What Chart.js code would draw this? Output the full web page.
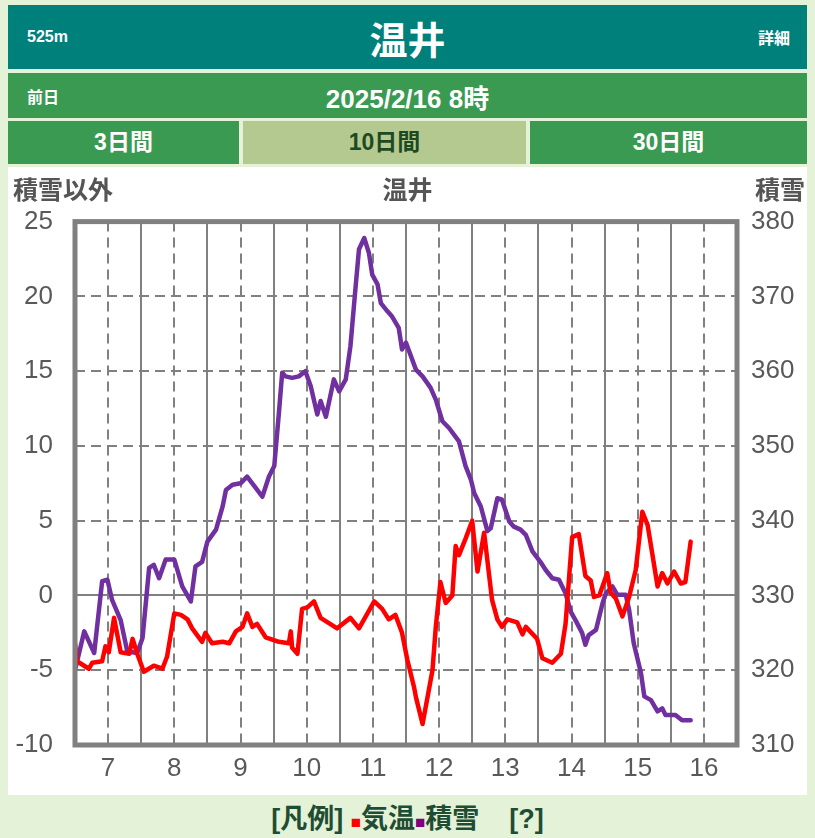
<!DOCTYPE html>
<html lang="ja">
<head>
<meta charset="UTF-8">
<title>温井 10日間</title>
<script src="https://cdn.jsdelivr.net/npm/chart.js"></script>
<style>
  body {
    margin: 0;
    width: 815px;
    height: 838px;
    background: #e4f2d8;
    font-family: "Liberation Sans", Arial, "Noto Sans CJK JP", sans-serif;
    position: relative;
    overflow: hidden;
  }
  .bar {
    position: absolute;
    left: 8px;
    width: 799px;
    color: #fff;
    font-weight: bold;
  }
  .head { top: 5px; height: 64px; background: #00807b; }
  .date { top: 73px; height: 45px; background: #3a9a52; }
  .bar span { position: absolute; top: 50%; transform: translateY(-50%); }
  .tab {
    position: absolute;
    top: 121px;
    height: 43px;
    line-height: 43px;
    background: #3a9a52;
    color: #fff;
    font-weight: bold;
    font-size: 23px;
    text-align: center;
  }
  .tab.on { background: #b4c98f; color: #1d4a22; }
  .panel {
    position: absolute;
    left: 8px;
    top: 167px;
    width: 799px;
    height: 628px;
    background: #fff;
  }
  .lab {
    position: absolute;
    top: 170px;
    font-size: 25px;
    font-weight: bold;
    color: #555;
  }
  #box {
    position: absolute;
    left: 8px;
    top: 184px;
    width: 799px;
    height: 611px;
  }
  .legend {
    position: absolute;
    left: 0;
    width: 815px;
    top: 797px;
    text-align: center;
    font-size: 27px;
    font-weight: bold;
    color: #1e4d33;
  }
</style>
</head>
<body>

<div class="bar head">
  <span style="left:19px;font-size:16px;">525m</span>
  <span style="left:0;width:799px;text-align:center;font-size:38px;">温井</span>
  <span style="right:17px;font-size:16px;">詳細</span>
</div>
<div class="bar date">
  <span style="left:19px;font-size:16px;">前日</span>
  <span style="left:0;width:799px;text-align:center;font-size:26px;">2025/2/16 8時</span>
</div>
<div class="tab" style="left:8px;width:231px;">3日間</div>
<div class="tab on" style="left:243px;width:283px;">10日間</div>
<div class="tab" style="left:530px;width:277px;">30日間</div>

<div class="panel"></div>

<div id="box"><canvas id="chart"></canvas></div>

<div class="lab" style="left:13px;">積雪以外</div>
<div class="lab" style="left:0;width:815px;text-align:center;">温井</div>
<div class="lab" style="right:10px;">積雪</div>

<div class="legend">[凡例] <span style="color:#f00;font-size:17px;">■</span>気温<span style="color:#800080;font-size:17px;">■</span>積雪 &nbsp;&nbsp; [?]</div>

<script>
// 気温（日付＋時刻を日単位で）
const tempTime = [7.00,7.03,7.21,7.26,7.41,7.46,7.51,7.59,7.69,7.82,7.87,7.94,8.04,8.19,8.32,8.39,8.50,8.60,8.70,8.77,8.92,8.97,9.07,9.23,9.33,9.43,9.53,9.60,9.68,9.75,9.88,10.08,10.23,10.26,10.28,10.36,10.43,10.51,10.61,10.71,10.96,11.16,11.29,11.52,11.64,11.74,11.84,11.94,12.02,12.12,12.15,12.25,12.40,12.45,12.52,12.60,12.70,12.75,12.80,12.90,13.00,13.08,13.18,13.30,13.38,13.45,13.53,13.68,13.76,13.81,13.98,14.06,14.21,14.34,14.41,14.51,14.61,14.71,14.79,14.84,14.92,15.04,15.09,15.17,15.27,15.37,15.47,15.57,15.65,15.72,15.80,15.87,15.95,16.05,16.15,16.22,16.30];
const tempVals = [-3.2,-4.4,-4.9,-4.5,-4.4,-3.4,-3.8,-1.5,-3.8,-3.9,-2.9,-3.9,-5.1,-4.7,-4.9,-4.1,-1.2,-1.3,-1.6,-2.2,-3.1,-2.5,-3.2,-3.1,-3.2,-2.4,-2.1,-1.2,-2.1,-1.9,-2.8,-3.1,-3.2,-2.4,-3.5,-3.9,-0.9,-0.8,-0.4,-1.5,-2.2,-1.5,-2.2,-0.4,-0.9,-1.6,-1.3,-2.5,-4.3,-6.1,-6.8,-8.6,-5.0,-2.1,0.9,-0.5,0.0,3.3,2.7,3.8,5.0,1.6,4.2,-0.3,-1.6,-2.1,-1.6,-1.8,-2.6,-2.1,-2.9,-4.2,-4.5,-3.9,-1.9,3.9,4.1,1.3,1.0,-0.1,0.0,1.5,0.2,-0.2,-1.4,-0.1,1.7,5.6,4.7,2.8,0.6,1.5,0.8,1.6,0.8,0.9,3.6];

// 積雪
const snowTime = [7.00,7.14,7.29,7.41,7.49,7.56,7.69,7.79,7.94,8.02,8.12,8.19,8.27,8.37,8.50,8.62,8.75,8.82,8.92,9.00,9.13,9.23,9.28,9.38,9.50,9.60,9.73,9.83,9.93,10.01,10.08,10.13,10.18,10.28,10.38,10.48,10.56,10.66,10.71,10.79,10.91,10.99,11.09,11.16,11.24,11.29,11.37,11.44,11.49,11.57,11.62,11.72,11.79,11.89,11.94,12.00,12.15,12.25,12.37,12.45,12.55,12.65,12.80,12.90,12.98,13.03,13.13,13.23,13.28,13.38,13.45,13.56,13.63,13.73,13.81,13.91,14.03,14.11,14.21,14.31,14.41,14.49,14.56,14.66,14.71,14.76,14.87,14.97,15.02,15.12,15.19,15.32,15.37,15.44,15.55,15.60,15.70,15.80,15.87,15.92,16.07,16.17,16.30];
const snowVals = [320.0,325.2,322.3,331.9,332.1,329.4,326.7,322.5,322.3,324.3,333.7,334.1,332.3,334.8,334.8,331.2,329.2,333.9,334.5,337.2,338.8,341.9,344.1,344.8,345.0,345.9,344.4,343.2,345.9,347.3,354.4,359.8,359.3,359.1,359.3,360.0,358.0,354.2,356.0,353.9,358.9,357.3,358.9,363.3,371.4,376.3,377.8,375.8,372.9,371.6,369.1,368.0,367.3,365.8,362.9,363.8,360.2,359.3,357.8,356.2,353.3,352.4,350.6,347.3,345.5,343.7,341.9,338.6,339.0,343.0,342.8,339.9,339.2,338.8,338.1,335.9,334.5,333.4,332.3,332.1,330.3,327.8,326.7,325.0,323.4,324.7,325.4,329.0,330.3,331.2,330.1,330.1,328.1,323.6,319.6,316.5,316.0,314.5,314.9,314.0,314.0,313.3,313.3];

// 軸の目盛
const xMin = 7, xMax = 17;
const leftMin = -10, leftMax = 25, leftStep = 5;
const rightMin = 310, rightMax = 380, rightStep = 10;

const gridGray = '#808080';
const tickFont = { family: '"Liberation Sans", Arial, sans-serif', size: 26 };

// 外枠
const frame = {
  id: 'frame',
  afterDraw(chart) {
    const a = chart.chartArea, ctx = chart.ctx;
    ctx.save();
    ctx.strokeStyle = gridGray;
    ctx.lineWidth = 5;
    ctx.strokeRect(a.left, a.top, a.right - a.left, a.bottom - a.top);
    ctx.restore();
  }
};

new Chart(document.getElementById('chart'), {
  type: 'line',
  data: {
    datasets: [
      {
        label: '気温',
        data: tempTime.map((t, i) => ({ x: t, y: tempVals[i] })),
        borderColor: '#ff0000',
        borderWidth: 4.5,
        borderJoinStyle: 'round',
        borderCapStyle: 'round',
        pointRadius: 0,
        yAxisID: 'y'
      },
      {
        label: '積雪',
        data: snowTime.map((t, i) => ({ x: t, y: snowVals[i] })),
        borderColor: '#7030a0',
        borderWidth: 4.5,
        borderJoinStyle: 'round',
        borderCapStyle: 'round',
        pointRadius: 0,
        yAxisID: 'y2'
      }
    ]
  },
  options: {
    responsive: true,
    maintainAspectRatio: false,
    animation: false,
    layout: { padding: { top: 6, left: 0, right: 0, bottom: 0 } },
    plugins: { legend: { display: false }, tooltip: { enabled: false } },
    scales: {
      x: {
        type: 'linear',
        min: xMin,
        max: xMax,
        afterFit: s => { s.height = 50; },
        ticks: {
          stepSize: 0.5,
          autoSkip: false,
          maxRotation: 0,
          padding: 8,
          color: '#595959',
          font: tickFont,
          callback: v => (v % 1 === 0.5 ? Math.floor(v) : '')
        },
        grid: { color: gridGray, lineWidth: 2, drawTicks: false },
        border: {
          display: false,
          dash: c => (c.tick && c.tick.value % 1 !== 0 ? [10, 6] : [])
        }
      },
      y: {
        position: 'left',
        min: leftMin,
        max: leftMax,
        afterFit: s => { s.width = 67; },
        ticks: { stepSize: leftStep, padding: 22, color: '#595959', font: tickFont },
        grid: { color: gridGray, lineWidth: 2, drawTicks: false },
        border: {
          display: false,
          dash: c => (c.tick && c.tick.value !== 0 ? [10, 6] : [])
        }
      },
      y2: {
        position: 'right',
        min: rightMin,
        max: rightMax,
        afterFit: s => { s.width = 70; },
        ticks: { stepSize: rightStep, padding: 14, color: '#595959', font: tickFont },
        grid: { display: false, drawTicks: false },
        border: { display: false }
      }
    }
  },
  plugins: [frame]
});
</script>
</body>
</html>
